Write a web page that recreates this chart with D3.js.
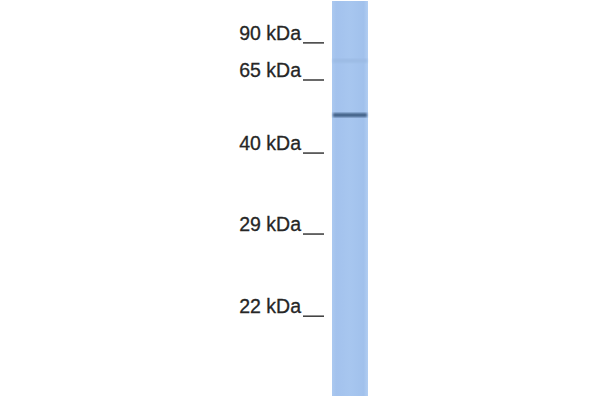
<!DOCTYPE html>
<html>
<head>
<meta charset="utf-8">
<script src="https://cdn.jsdelivr.net/npm/d3@7"></script>
<style>
  body { margin: 0; background: #fff; }
  svg { display: block; }
</style>
</head>
<body>
<svg id="blot" width="600" height="400"></svg>
<script>
// marker ladder (kDa) and where each one ran on the gel (fraction of lane height)
var markerKDa = [90, 65, 40, 29, 22];
var markerLabels = ["90 kDa", "65 kDa", "40 kDa", "29 kDa", "22 kDa"];
var markerRun = [0.106, 0.200, 0.385, 0.590, 0.798];

// bands detected in the sample lane
var bandKDa = [53, 78];
var bandIntensity = [0.85, 0.07];

var svg = d3.select('#blot');
var laneTop = 1, laneBottom = 396;
var laneX = 332, laneW = 36;

// gel calibration: kDa -> run fraction -> pixel
var run = d3.scaleLinear().domain(markerKDa).range(markerRun);
var y = d3.scaleLinear().domain([0, 1]).range([laneTop, laneBottom]);

var defs = svg.append('defs');
var grad = defs.append('linearGradient').attr('id', 'laneGrad')
  .attr('x1', 0).attr('x2', 1).attr('y1', 0).attr('y2', 0);
grad.append('stop').attr('offset', '0%').attr('stop-color', '#abc9f0');
grad.append('stop').attr('offset', '12%').attr('stop-color', '#a3c2ed');
grad.append('stop').attr('offset', '50%').attr('stop-color', '#a7c6ef');
grad.append('stop').attr('offset', '88%').attr('stop-color', '#a1c1ec');
grad.append('stop').attr('offset', '100%').attr('stop-color', '#b2cef2');

defs.append('filter').attr('id', 'blur')
  .append('feGaussianBlur').attr('stdDeviation', 0.9);

svg.append('rect')
  .attr('x', laneX).attr('y', laneTop)
  .attr('width', laneW).attr('height', laneBottom - laneTop)
  .attr('fill', 'url(#laneGrad)');

var bandColor = d3.interpolateRgb('#a4c3ed', '#2e4d73');
svg.selectAll('.band')
  .data(bandKDa)
  .enter().append('rect')
  .attr('class', 'band')
  .attr('x', laneX + 1)
  .attr('y', function(d) { return y(run(d)) - 2; })
  .attr('width', laneW - 2)
  .attr('height', 4)
  .attr('fill', function(d, i) { return bandColor(bandIntensity[i]); })
  .attr('filter', 'url(#blur)');

var marks = svg.selectAll('.marker')
  .data(markerKDa)
  .enter().append('g')
  .attr('class', 'marker')
  .attr('transform', function(d) { return 'translate(0,' + y(run(d)) + ')'; });

marks.append('text')
  .attr('x', 301)
  .attr('y', -3)
  .attr('text-anchor', 'end')
  .attr('font-family', 'Liberation Sans, Arial, sans-serif')
  .attr('font-size', 19.5)
  .attr('fill', '#262626')
  .attr('stroke', '#262626')
  .attr('stroke-width', 0.3)
  .text(function(d, i) { return markerLabels[i]; });

marks.append('line')
  .attr('x1', 303).attr('x2', 324)
  .attr('y1', 0).attr('y2', 0)
  .attr('stroke', '#444')
  .attr('stroke-width', 1.6);
</script>
</body>
</html>
